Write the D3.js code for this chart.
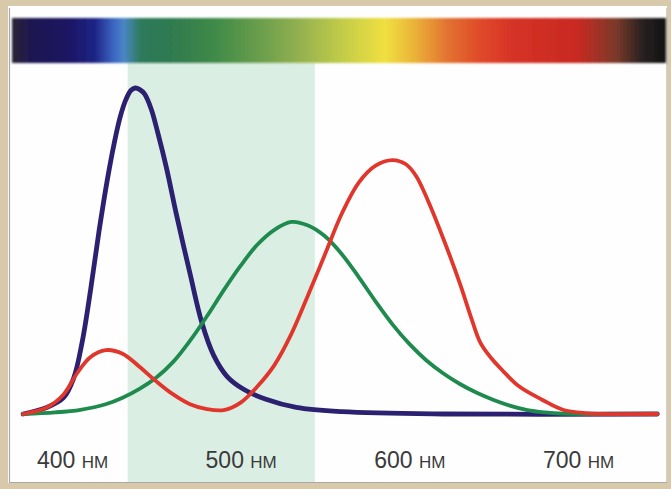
<!DOCTYPE html>
<html>
<head>
<meta charset="utf-8">
<script src="https://cdn.jsdelivr.net/npm/d3@7"></script>
<style>
  html, body { margin: 0; padding: 0; background: #d8c9ab; }
  svg { display: block; }
</style>
</head>
<body>
<svg id="chart" width="671" height="489"></svg>
<script>
// ---- data: wavelength (nm) and relative sensitivity ----
const blueCurve = [
  [371,0],[385,0.02],[395,0.05],[401,0.11],[406,0.22],[411,0.38],[416,0.56],
  [421,0.72],[425,0.83],[428.5,0.91],[432,0.965],[435,0.993],[437.5,1.0],[440,0.996],
  [443,0.982],[447,0.935],[451,0.86],[456,0.755],[462,0.61],[470,0.43],[477,0.28],
  [484,0.18],[492,0.115],[502,0.075],[515,0.045],[533,0.02],[560,0.007],[620,0.0],[747,0.0]
];
const greenCurve = [
  [371,0],[390,0.005],[405,0.013],[420,0.03],[430,0.05],[440,0.077],[450,0.112],
  [460,0.16],[470,0.225],[480,0.3],[490,0.38],[500,0.455],[510,0.52],[520,0.565],
  [530,0.589],[540,0.578],[550,0.545],[560,0.49],[570,0.42],[580,0.345],[590,0.275],
  [600,0.215],[610,0.165],[620,0.125],[630,0.092],[640,0.065],[650,0.043],[660,0.025],
  [670,0.012],[680,0.005],[690,0.001],[747,0.0]
];
const redCurve = [
  [371,0],[385,0.02],[395,0.06],[403,0.125],[411,0.175],[420,0.196],[430,0.185],
  [440,0.145],[450,0.1],[460,0.06],[470,0.03],[480,0.015],[490,0.012],[500,0.035],
  [510,0.085],[520,0.15],[530,0.245],[540,0.365],[550,0.49],[560,0.615],[570,0.71],
  [580,0.762],[590,0.779],[598,0.766],[604,0.73],[611,0.655],[620,0.54],[630,0.4],
  [637,0.29],[642,0.22],[648,0.175],[655,0.135],[665,0.085],[679,0.043],[691,0.013],
  [704,0.003],[747,0.0]
];
const tickValues = [400, 500, 600, 700];
const tickUnit = "нм";
const shadeRange = [433, 544];   // highlighted band (nm)
const spectrumStops = [
  [0.000,"#2b2535"],[0.028,"#1f1850"],[0.080,"#1a1260"],[0.127,"#1f2585"],
  [0.154,"#3a63c0"],[0.171,"#4a86c6"],[0.196,"#2f7a5c"],[0.243,"#2f7a50"],
  [0.309,"#3f8a48"],[0.379,"#6a9e4c"],[0.440,"#94b050"],[0.505,"#c2cc48"],
  [0.570,"#f0e040"],[0.616,"#eab238"],[0.668,"#e27030"],[0.716,"#e04a2a"],
  [0.766,"#d63226"],[0.865,"#c82a22"],[0.924,"#7a3a2a"],[0.963,"#2a2222"],
  [1.000,"#121212"]
];

// ---- layout ----
const svg = d3.select("#chart");
const x = d3.scaleLinear().domain([400, 700]).range([72, 578]);
const y = d3.scaleLinear().domain([0, 1]).range([414, 88]);

// panel
svg.append("rect").attr("x", 8).attr("y", 6).attr("width", 659).attr("height", 477)
  .attr("fill", "#fdfefd");
svg.append("path").attr("d", "M9.5,8 V482.5 H667")
  .attr("fill", "none").attr("stroke", "#a9a9a9").attr("stroke-width", 1.2);
svg.append("line").attr("x1", 666.5).attr("x2", 666.5).attr("y1", 8).attr("y2", 482)
  .attr("stroke", "#d0d0d0").attr("stroke-width", 1);

// spectrum gradient
const defs = svg.append("defs");
const grad = defs.append("linearGradient").attr("id", "spec")
  .attr("x1", "0%").attr("x2", "100%").attr("y1", "0%").attr("y2", "0%");
grad.selectAll("stop").data(spectrumStops).join("stop")
  .attr("offset", d => d[0]).attr("stop-color", d => d[1]);
const blur = defs.append("filter").attr("id", "soft")
  .attr("x", "-2%").attr("y", "-10%").attr("width", "104%").attr("height", "120%");
blur.append("feGaussianBlur").attr("stdDeviation", 1.2);

// shaded band
svg.append("rect")
  .attr("x", x(shadeRange[0])).attr("y", 63)
  .attr("width", x(shadeRange[1]) - x(shadeRange[0])).attr("height", 419)
  .attr("fill", "#daeee4");

svg.append("rect").attr("x", 12).attr("y", 18).attr("width", 654).attr("height", 45)
  .attr("fill", "url(#spec)").attr("filter", "url(#soft)");

// curves
const line = d3.line()
  .x(d => x(d[0])).y(d => y(d[1]))
  .curve(d3.curveCatmullRom.alpha(0.5));

const series = [
  { data: blueCurve, color: "#2b2170", width: 4.8 },
  { data: greenCurve, color: "#1f8a4e", width: 3.8 },
  { data: redCurve, color: "#e0362c", width: 3.8 }
];
svg.selectAll("path.curve").data(series).join("path")
  .attr("class", "curve")
  .attr("d", d => line(d.data))
  .attr("fill", "none")
  .attr("stroke", d => d.color)
  .attr("stroke-width", d => d.width)
  .attr("stroke-linejoin", "round")
  .attr("stroke-linecap", "round");

// axis labels
const axis = d3.axisBottom(x).tickValues(tickValues).tickSize(0)
  .tickFormat(d => d + " " + tickUnit);
const gAxis = svg.append("g").attr("transform", "translate(0,468)").call(axis);
gAxis.select(".domain").remove();
gAxis.selectAll("text")
  .attr("y", 0).attr("dy", 0)
  .attr("fill", "#3a3a3a")
  .style("font-family", "'Liberation Sans', Arial, sans-serif")
  .style("font-size", "23px");
gAxis.selectAll("text").each(function(d) {
  const t = d3.select(this);
  t.text(null);
  t.append("tspan").text(d + " ");
  t.append("tspan").style("font-size", "17px").text(tickUnit.toUpperCase());
});
</script>
</body>
</html>
